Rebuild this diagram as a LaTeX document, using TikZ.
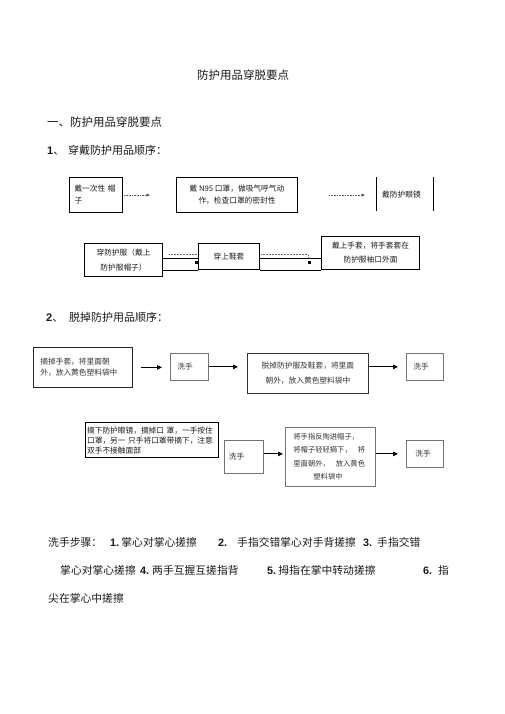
\documentclass[tikz,border=0pt]{standalone}
\usepackage{fontspec}
\setmainfont{Noto Sans CJK SC}
\newfontfamily\numfont{Liberation Sans}
\usetikzlibrary{arrows.meta,calc}

\begin{document}
\begin{tikzpicture}[x=1pt,y=-1pt,
    every node/.style={inner sep=0pt,text=black!90},
    heading/.style={anchor=base west,font=\fontsize{11}{13}\selectfont},
    wordbox/.style={draw=black,line width=1pt,anchor=north west,inner xsep=6pt,font=\fontsize{7.7}{12}\selectfont},
    grayed/.style={draw=black!55,line width=0.8pt,anchor=north west,inner xsep=7pt,font=\fontsize{7.7}{12}\selectfont,text=black!80},
    dotarrow/.style={densely dotted,draw=black!65,line width=0.6pt,-{Triangle[length=3.5pt,width=3pt]}},
    solidarrow/.style={line width=0.9pt,-{Triangle[length=5pt,width=4.5pt]}},
    steptext/.style={anchor=base west,font=\fontsize{10.8}{12}\selectfont}]
    \useasboundingbox (0,0) rectangle (505,714);

    % headings
    \node[anchor=base,font=\fontsize{11.5}{13}\selectfont] (title) at (243,80) {防护用品穿脱要点};
    \node[heading,font=\fontsize{11.5}{13}\selectfont] (sec) at (47,127) {一、防护用品穿脱要点};
    \node[heading] (one) at (47,155) {{\numfont\bfseries 1}、};
    \node[heading] (onetext) at (68,155) {穿戴防护用品顺序：};

    % wearing, first row
    \node[wordbox,text width=43pt,inner xsep=5pt,align=left,minimum height=35pt] (A) at (69,177) {戴一次性 帽\\子};
    \node[wordbox,minimum width=121pt,minimum height=35pt,align=center] (B) at (176,177) {戴 N95 口罩，做吸气呼气动\\作，检查口罩的密封性};
    \node[anchor=north west,font=\fontsize{7.7}{12}\selectfont,text width=45pt,inner xsep=6pt,align=left,minimum height=34pt] (C) at (376,177) {戴防护眼镜};
    \draw[line width=1pt] (C.north west) -- (C.south west) (C.north east) -- (C.south east);
    \draw[dotarrow,shorten <=1pt,shorten >=26pt] (A.east) -- (A.east -| B.west);
    \draw[dotarrow,shorten <=31pt,shorten >=11pt] (B.east) -- (B.east -| C.west);

    % wearing, second row
    \node[wordbox,minimum width=78pt,minimum height=33pt,align=center,font=\fontsize{7.7}{15}\selectfont] (D) at (84,243) {穿防护服（戴上\\防护服帽子）};
    \node[wordbox,minimum width=61pt,minimum height=26pt] (E) at (198,243) {穿上鞋套};
    \node[wordbox,minimum width=98pt,minimum height=33pt,align=center,font=\fontsize{7.7}{14}\selectfont] (F) at (321,236) {戴上手套，将手套套在\\防护服袖口外面};
    \coordinate (Lstrip) at ([yshift=12pt]E.south west);
    \coordinate (Rstrip) at ([yshift=12pt]E.south east);
    \draw[line width=1pt] (E.south west) -- (E.south west -| D.east)
        (Lstrip) -- (Lstrip -| D.east)
        (E.south east) -- (E.south east -| F.west)
        (Rstrip) -- (Rstrip -| F.west);
    \draw[densely dotted,black!60,line width=0.5pt] ($(Lstrip -| D.east)+(6,-4)$) -- ($(Lstrip)+(-1,-4)$);
    \draw[densely dotted,black!60,line width=0.5pt] ($(Rstrip)+(1,-4)$) -- ($(Rstrip -| F.west)+(-13,-4)$) -- ++(0,3);
    \fill ($(Lstrip)+(-3,3)$) rectangle ++(2.5,2.5);
    \fill ($(Rstrip -| F.west)+(-13,3)$) rectangle ++(2.5,2.5);

    \node[heading] (two) at (46,321) {{\numfont\bfseries 2}、};
    \node[heading] (twotext) at (69,321) {脱掉防护用品顺序：};

    % removing, first row
    \node[grayed,draw=black!85,text width=85pt,align=left,minimum height=40pt,font=\fontsize{7.7}{11}\selectfont] (G) at (33,347) {摘掉手套，将里面朝\\外，放入黄色塑料袋中};
    \node[grayed,text width=24pt,align=left,minimum height=27pt] (H) at (170,353) {洗手};
    \node[grayed,draw=black!80,minimum width=121pt,minimum height=40pt,align=center,font=\fontsize{7.7}{15}\selectfont] (I) at (247,353) {脱掉防护服及鞋套，将里面\\朝外，放入黄色塑料袋中};
    \node[grayed,text width=23pt,align=left,minimum height=27pt] (J) at (406,353) {洗手};
    \draw[solidarrow,shorten <=8pt,shorten >=8pt] (G.east) -- (G.east -| H.west);
    \draw[solidarrow,shorten >=9pt] (H.east) -- (H.east -| I.west);
    \draw[solidarrow,shorten >=8pt] (J.west -| I.east) -- (J.west);

    % removing, second row
    \node[wordbox,line width=1.2pt,text width=130pt,inner xsep=1.5pt,align=left,minimum height=35pt,font=\fontsize{7.7}{10}\selectfont] (K) at (85,422) {摘下防护眼镜，摘掉口 罩，一手按住\\口罩，另一 只手将口罩带摘下，注意\\双手不接触面部};
    \node[grayed,text width=30pt,inner xsep=4.5pt,align=left,minimum height=33pt] (L) at (224,440) {洗手};
    \node[grayed,text width=74pt,inner xsep=8pt,align=left,minimum height=59pt,font=\fontsize{7.3}{13.5}\selectfont] (M) at (285,427) {将手指反掏进帽子，\\将帽子轻轻摘下，\hspace{6pt}将\\里面朝外，\hspace{6pt}放入黄色\\\hspace*{20pt}塑料袋中};
    \node[grayed,text width=19pt,inner xsep=9pt,align=left,minimum height=27pt] (N) at (406,440) {洗手};
    \draw[solidarrow,shorten >=2pt] (N.west -| L.east) -- (N.west -| M.west);
    \draw[solidarrow,shorten >=8pt] (N.west -| M.east) -- (N.west);

    % hand washing steps
    \node[steptext] (s0) at (48,546) {洗手步骤：};
    \node[steptext] (s1) at (110,546) {{\numfont\bfseries 1.}\hspace{2.2pt}掌心对掌心搓擦};
    \node[steptext] (s2) at (218,546) {{\numfont\bfseries 2.}\hspace{10pt}手指交错掌心对手背搓擦};
    \node[steptext] (s3) at (363,546) {{\numfont\bfseries 3.}\hspace{5pt}手指交错};
    \node[steptext] (s3b) at (60,574) {掌心对掌心搓擦};
    \node[steptext] (s4) at (140,574) {{\numfont\bfseries 4.}\hspace{3pt}两手互握互搓指背};
    \node[steptext] (s5) at (267,574) {{\numfont\bfseries 5.}\hspace{2.2pt}拇指在掌中转动搓擦};
    \node[steptext] (s6) at (423,574) {{\numfont\bfseries 6.}\hspace{6pt}指};
    \node[steptext] (s6b) at (48,602) {尖在掌心中搓擦};
\end{tikzpicture}
\end{document}
